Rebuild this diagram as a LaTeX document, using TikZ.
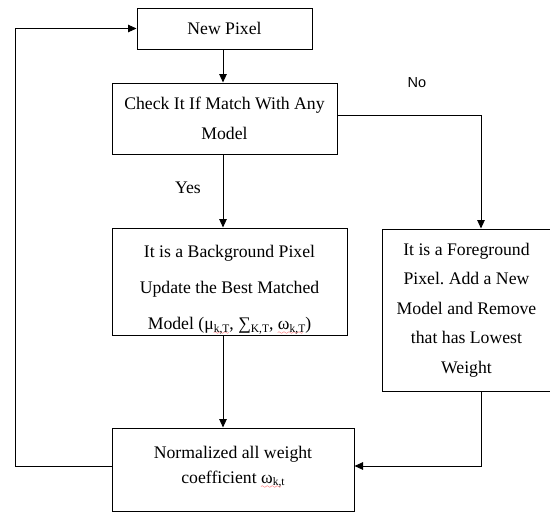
\documentclass[tikz,border=0pt]{standalone}
\usepackage{fontspec}
\setmainfont{Liberation Serif}
\newfontfamily\arialfont{Liberation Sans}
\usetikzlibrary{arrows.meta,calc}
\frenchspacing
\font\mywavefont=lasy6
\newsavebox\wavebox
\newcommand\redwave[1]{\sbox\wavebox{#1}\rlap{\color{red}\lower5pt\hbox to \wd\wavebox{\leaders\hbox{\mywavefont\char58}\hfill}}\usebox\wavebox}
\newcommand\sbs[1]{\raisebox{-2.5pt}{\fontsize{11.5}{11.5}\selectfont #1}}
\begin{document}
\begin{tikzpicture}[x=1pt,y=-1pt,line width=0.9pt,
  box/.style={draw,line width=1pt,inner sep=0pt,align=center,font=\fontsize{17.7}{29.5}\selectfont},
  txt/.style={inner sep=0pt,align=center},
  arr/.style={-{Triangle[length=8.5pt,width=7.5pt]}}]
\useasboundingbox (0,0) rectangle (550,512);
\node[box,minimum width=175pt,minimum height=41pt] (newpix) at (224.5,28.5) {New Pixel};
\node[box,minimum width=225pt,minimum height=71pt] (check) at (224.5,118.5) {Check It If Match With Any\\Model};
\node[box,minimum width=235pt,minimum height=107pt] (bg) at (229.5,281.5) {};
\node[txt,font=\fontsize{17.7}{36}\selectfont] (bgtxt) at (229.5,290) {It is a Background Pixel\\Update the Best Matched\\Model (μ\redwave{\sbs{k,T}}, ∑\sbs{K,T}, \redwave{ω\sbs{k,T}})};
\node[box,minimum width=169pt,minimum height=162pt] (fg) at (466.5,310) {It is a Foreground\\Pixel. Add a New\\Model and Remove\\that has Lowest\\Weight};
\node[box,minimum width=242pt,minimum height=83pt] (norm) at (233,469.5) {};
\node[txt,font=\fontsize{17.7}{25}\selectfont] (normtxt) at (233,467) {Normalized all weight\\coefficient \redwave{ω\sbs{k,t}}};
\node[txt,font=\arialfont\fontsize{14.5}{14.5}\selectfont] (no) at (417,83) {No};
\node[txt,font=\fontsize{17.7}{17.7}\selectfont] (yes) at (188,188) {Yes};
\coordinate (mainx) at (223,0);
\coordinate (fgx) at (481,0);
\coordinate (noy) at (0,115);
\coordinate (loopy) at (0,466);
\coordinate (loopx) at (15,0);
\draw[arr] (newpix.south -| mainx) -- (check.north -| mainx);
\draw[arr] (check.south -| mainx) -- (bg.north -| mainx);
\draw[arr] (bg.south -| mainx) -- (norm.north -| mainx);
\draw[arr] (check.east |- noy) -- (fgx |- noy) -- (fgx |- fg.north);
\draw[arr] (fg.south -| fgx) -- (fgx |- loopy) -- (norm.east |- loopy);
\draw[arr] (norm.west |- loopy) -- (loopx |- loopy) -- (loopx |- newpix.west) -- (newpix.west);
\end{tikzpicture}
\end{document}
